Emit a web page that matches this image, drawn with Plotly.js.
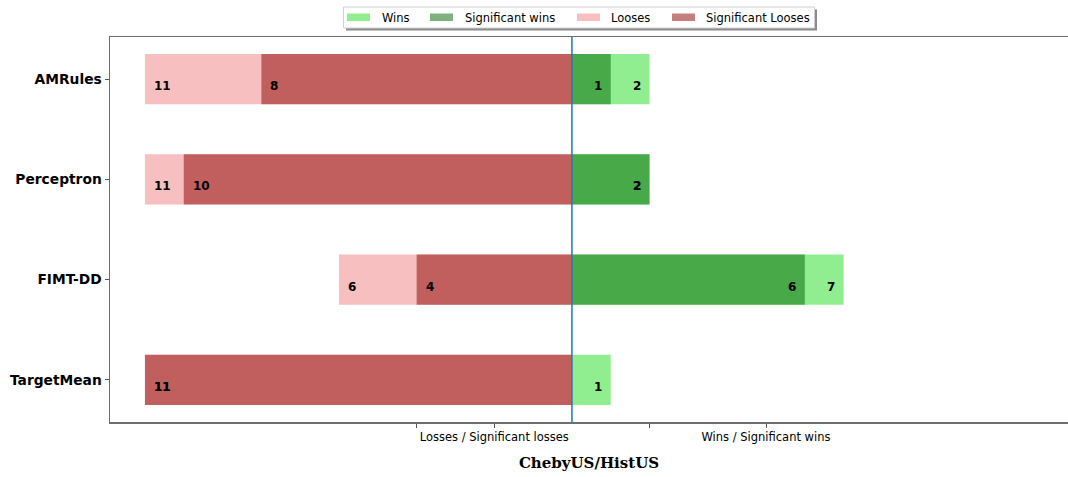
<!DOCTYPE html>
<html>
<head>
<meta charset="utf-8">
<script src="https://cdn.plot.ly/plotly-3.0.1.min.js"></script>
<style>html,body{margin:0;padding:0;background:#fff;}#chart{width:1068px;height:477px;}</style>
</head>
<body>
<div id="chart"></div>
<script>
// ---- data ----
const categories = ['AMRules', 'Perceptron', 'FIMT-DD', 'TargetMean'];
const wins = [2, 2, 7, 1];
const sigWins = [1, 2, 6, 0];
const losses = [11, 11, 6, 11];
const sigLosses = [8, 10, 4, 11];
const seriesNames = ['Wins', 'Significant wins', 'Looses', 'Significant Looses'];
const xTickVals = [-4, -2, 2, 5];
const xTickText = ['', 'Losses / Significant losses', '', 'Wins / Significant wins'];
const xTitle = 'ChebyUS/HistUS';

// ---- styles ----
const colors = ['#90ee90', 'rgba(0,100,0,0.5)', 'rgba(240,128,128,0.5)', 'rgba(139,0,0,0.5)'];
const W = 1068, H = 477, ML = 110, MR = 0, MT = 37, MB = 55;
const PW = W - ML - MR, PH = H - MT - MB;
const fx = p => (p - ML) / PW;
const fy = p => (H - MB - p) / PH;

function barTrace(vals, sign, i) {
  return {
    type: 'bar', orientation: 'h',
    x: vals.map(v => sign * v), y: categories,
    width: 0.5, name: seriesNames[i],
    marker: {color: colors[i], line: {width: 0}},
    hoverinfo: 'skip', showlegend: false
  };
}
const traces = [
  barTrace(wins, 1, 0),
  barTrace(sigWins, 1, 1),
  barTrace(losses, -1, 2),
  barTrace(sigLosses, -1, 3)
];

const annotations = [];
function addLabels(vals, sign) {
  vals.forEach((v, k) => {
    if (v === 0) return;
    annotations.push({
      x: sign * v, y: categories[k], xref: 'x', yref: 'y',
      text: String(v), showarrow: false,
      xanchor: sign < 0 ? 'left' : 'right', yanchor: 'middle',
      xshift: sign < 0 ? 7 : -7, yshift: -7,
      font: {family: 'DejaVu Sans', size: 12, color: '#000', weight: 'bold'}
    });
  });
}
addLabels(losses, -1);
addLabels(sigLosses, -1);
addLabels(wins, 1);
addLabels(sigWins, 1);

// custom legend (box with shadow)
const shapes = [
  {type: 'rect', xref: 'paper', yref: 'paper', x0: fx(346), x1: fx(817), y0: fy(30.5), y1: fy(9.5),
   fillcolor: '#8c8c8c', line: {width: 0}, layer: 'above'},
  {type: 'rect', xref: 'paper', yref: 'paper', x0: fx(343.5), x1: fx(814.5), y0: fy(28), y1: fy(7),
   fillcolor: '#ffffff', line: {color: '#d0d0d0', width: 1}, layer: 'above'}
];
const swatchX = [347, 430, 577, 672];
const textX = [380, 463, 609, 704];
seriesNames.forEach((n, i) => {
  shapes.push({type: 'rect', xref: 'paper', yref: 'paper', x0: fx(swatchX[i]), x1: fx(swatchX[i] + 23),
    y0: fy(21), y1: fy(13.5), fillcolor: colors[i], line: {width: 0}, layer: 'above'});
  annotations.push({xref: 'paper', yref: 'paper', x: fx(textX[i]), y: fy(17.5), xanchor: 'left', yanchor: 'middle',
    text: n, showarrow: false, font: {family: 'DejaVu Sans', size: 11.5, color: '#000'}});
});
// zero line
shapes.push({type: 'line', xref: 'x', yref: 'paper', x0: 0, x1: 0, y0: 0, y1: 1,
  line: {color: '#1f77b4', width: 1.5}, layer: 'above'});

const layout = {
  width: W, height: H,
  margin: {l: ML, r: MR, t: MT, b: MB, pad: 0},
  paper_bgcolor: '#fff', plot_bgcolor: '#fff',
  barmode: 'overlay', showlegend: false,
  xaxis: {
    range: [-11.9, 12.78], showgrid: false, zeroline: false,
    tickmode: 'array', tickvals: xTickVals, ticktext: xTickText,
    ticks: 'outside', ticklen: 4, tickwidth: 1, tickcolor: '#555',
    tickfont: {family: 'DejaVu Sans', size: 11.5, color: '#000'},
    showline: true, linecolor: '#6e6e6e', linewidth: 1.5, mirror: true,
    title: {text: xTitle, standoff: 14, font: {family: 'DejaVu Serif', size: 15, color: '#000', weight: 'bold'}},
    fixedrange: true
  },
  yaxis: {
    type: 'category', range: [3.42, -0.42], showgrid: false, zeroline: false,
    ticks: 'outside', ticklen: 4, tickwidth: 1, tickcolor: '#555',
    tickfont: {family: 'DejaVu Sans', size: 13.8, color: '#000', weight: 'bold'},
    showline: true, linecolor: '#6e6e6e', linewidth: 1.5,
    fixedrange: true
  },
  shapes: shapes,
  annotations: annotations
};
Plotly.newPlot('chart', traces, layout, {displayModeBar: false, staticPlot: true});
</script>
</body>
</html>
